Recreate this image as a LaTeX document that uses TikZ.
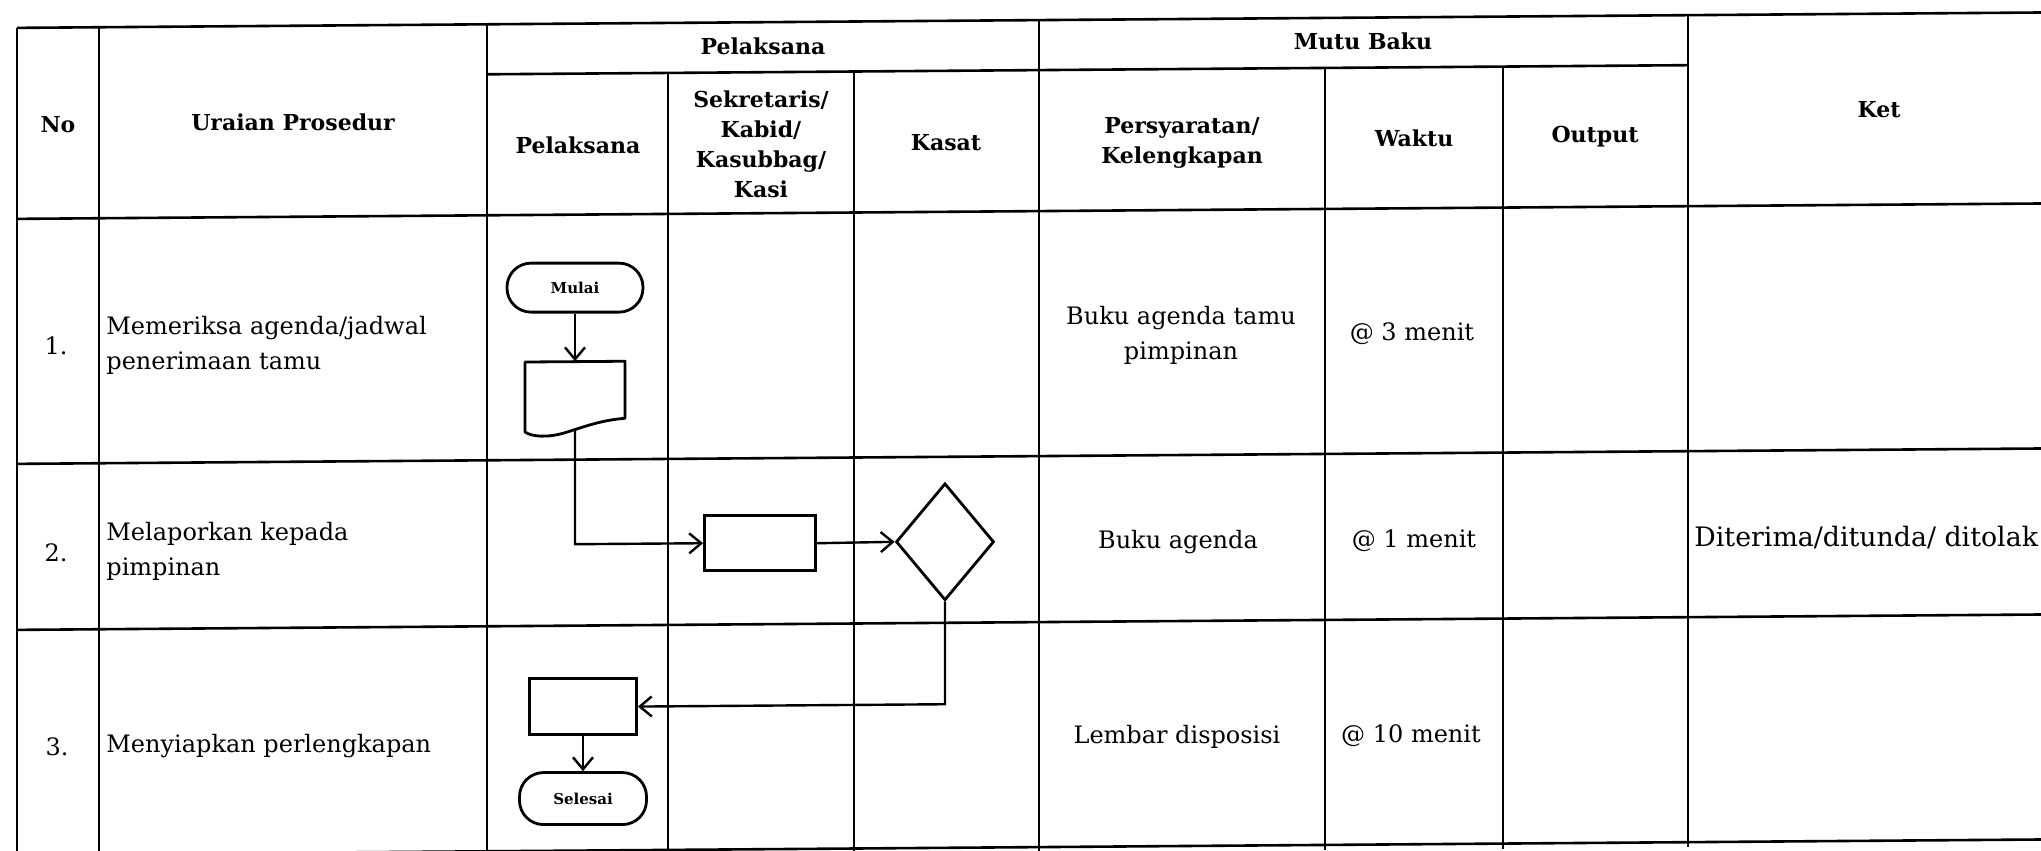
\documentclass[tikz,border=0pt]{standalone}
\usepackage{fontspec}
\setmainfont{DejaVu Serif}
\usetikzlibrary{arrows.meta,shapes.geometric}

\begin{document}
\begin{tikzpicture}[x=0.5pt,y=-0.5pt,
  gridline/.style={line width=1.3pt},
  fshape/.style={draw,line width=1.4pt,inner sep=0pt},
  term/.style={fshape,rectangle,rounded corners=12pt,font=\bfseries\fontsize{7.5}{9}\selectfont},
  procbox/.style={fshape,rectangle},
  decbox/.style={fshape,diamond,minimum width=49pt,minimum height=58.5pt},
  docbox/.style={rectangle,inner sep=0pt,minimum width=50pt,minimum height=34pt},
  flowarrow/.style={line width=1.2pt,-{Straight Barb[length=6pt,width=10pt,line width=1.2pt]}},
  hdr/.style={font=\bfseries\fontsize{11}{15}\selectfont,align=center,inner sep=0pt},
  body/.style={font=\fontsize{12}{17.5}\selectfont,inner sep=0pt},
  bodyl/.style={body,anchor=west,align=left},
  bodyc/.style={body,align=center}
]
\useasboundingbox (0,0) rectangle (2041,851);
\clip (0,0) rectangle (2041,851);

\begin{scope}[yslant=0.0076]
  % table frame: horizontal rules
  \draw[gridline] (17,28) -- (2120,28);
  \draw[gridline] (487,78) -- (1688,78);
  \draw[gridline] (17,219) -- (2120,219);
  \draw[gridline] (17,464) -- (2120,464);
  \draw[gridline] (17,630) -- (2120,630);
  \draw[gridline] (17,855) -- (2120,855);
  % vertical rules
  \foreach \cx in {17,99,487,1039,1688} \draw[gridline] (\cx,28) -- (\cx,860);
  \foreach \cx in {668,854,1325,1503} \draw[gridline] (\cx,78) -- (\cx,860);

  % header
  \node[hdr] (hno) at (58,125) {No};
  \node[hdr] (huraian) at (293,125) {Uraian Prosedur};
  \node[hdr] (hpel) at (763,52) {Pelaksana};
  \node[hdr] (hpelsub) at (578,150) {Pelaksana};
  \node[hdr] (hsek) at (761,150) {Sekretaris/\\Kabid/\\Kasubbag/\\Kasi};
  \node[hdr] (hkasat) at (946,150) {Kasat};
  \node[hdr] (hmutu) at (1363,52) {Mutu Baku};
  \node[hdr] (hsyarat) at (1182,152) {Persyaratan/\\Kelengkapan};
  \node[hdr] (hwaktu) at (1414,149) {Waktu};
  \node[hdr] (houtput) at (1595,149) {Output};
  \node[hdr] (hket) at (1879,124) {Ket};

  % row numbers and procedure descriptions
  \node[body] (n1) at (56,346) {1.};
  \node[body] (n2) at (56,553) {2.};
  \node[body] (n3) at (57,747) {3.};
  \node[bodyl] (u1) at (106,346) {Memeriksa agenda/jadwal\\penerimaan tamu};
  \node[bodyl] (u2) at (106,552) {Melaporkan kepada\\pimpinan};
  \node[bodyl] (u3) at (106,747) {Menyiapkan perlengkapan};

  % quality standard columns
  \node[bodyc] (s1) at (1181,344) {Buku agenda tamu\\pimpinan};
  \node[bodyc] (w1) at (1412,344) {@ 3 menit};
  \node[bodyc] (s2) at (1178,551) {Buku agenda};
  \node[bodyc] (w2) at (1414,551) {@ 1 menit};
  \node[bodyl,font=\fontsize{13.4}{17.5}\selectfont] (k2) at (1694,550) {Diterima/ditunda/ ditolak};
  \node[bodyc] (s3) at (1177,746) {Lembar disposisi};
  \node[bodyc] (w3) at (1411,746) {@ 10 menit};

  % flowchart symbols
  \node[term,minimum width=68pt,minimum height=24.5pt] (mulai) at (575,292) {Mulai};
  \node[docbox] (doc) at (575,400) {};
  \draw[line width=1.4pt,line join=round]
    (525,366) -- (625,366) -- (625,423)
    .. controls (600,425) and (585,431) .. (565,437)
    .. controls (548,442) and (532,441) .. (525,436) -- cycle;
  \node[procbox,minimum width=55.5pt,minimum height=27.5pt] (proc2) at (760,549) {};
  \node[decbox] (dec) at (945,549) {};
  \node[procbox,minimum width=53.5pt,minimum height=28pt] (proc3) at (583,711) {};
  \node[term,minimum width=63.5pt,minimum height=26pt] (selesai) at (583,803) {Selesai};

  % connectors
  \draw[flowarrow] (mulai.south) -- (doc.north);
  \draw[flowarrow] (doc.south) |- (proc2.west);
  \draw[flowarrow] (proc2.east) -- (dec.west);
  \draw[flowarrow] (dec.south) |- (proc3.east);
  \draw[flowarrow] (proc3.south) -- (selesai.north);
\end{scope}
\end{tikzpicture}
\end{document}
